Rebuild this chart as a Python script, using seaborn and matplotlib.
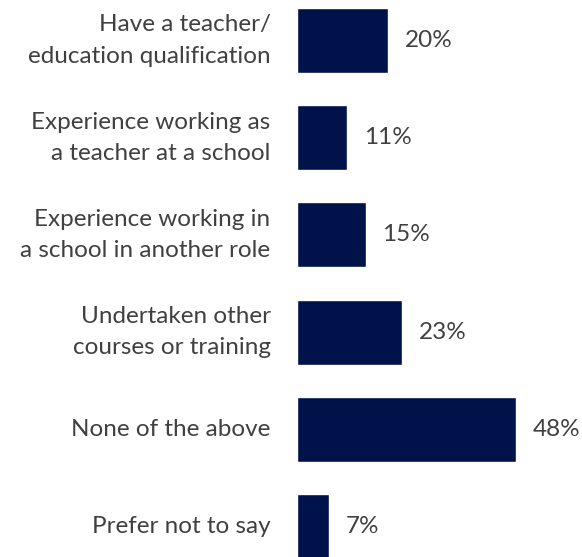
import matplotlib
matplotlib.use("Agg")
import matplotlib.pyplot as plt
import seaborn as sns
import pandas as pd

categories = [
    "Have a teacher/\neducation qualification",
    "Experience working as\na teacher at a school",
    "Experience working in\na school in another role",
    "Undertaken other\ncourses or training",
    "None of the above",
    "Prefer not to say",
]
values = [20, 11, 15, 23, 48, 7]
value_labels = ["20%", "11%", "15%", "23%", "48%", "7%"]

sns.set_style("white")
plt.rcParams["font.family"] = ["Lato", "DejaVu Sans"]

df = pd.DataFrame({"category": categories, "value": values})

fig = plt.figure(figsize=(5.82, 5.57), dpi=100)
ax = fig.add_axes([297 / 582, 0, 1 - 297 / 582, 1])

sns.barplot(data=df, x="value", y="category", orient="h", color="#00124A",
            saturation=1, width=0.67, ax=ax)

ax.set_xlim(0, 62.4)
ax.set_ylim(5.314, -0.417)
for spine in ax.spines.values():
    spine.set_visible(False)
ax.set_xlabel("")
ax.set_ylabel("")
ax.set_xticks([])
ax.set_yticks(range(len(categories)))
ax.set_yticklabels([])
ax.tick_params(axis="y", length=0)

text_color = "#404040"
fs = 17.5

# category names, right-aligned to the left of each bar
for i, name in enumerate(categories):
    ax.annotate(name, (0, i), xytext=(-19, 0), textcoords="offset points",
                ha="right", va="center", multialignment="right",
                linespacing=1.6, fontsize=fs, color=text_color,
                annotation_clip=False)

# value labels at the end of each bar
for i, (v, t) in enumerate(zip(values, value_labels)):
    ax.annotate(t, (v, i), xytext=(12, 0), textcoords="offset points",
                ha="left", va="center", fontsize=fs, color=text_color,
                annotation_clip=False)

fig.savefig("out.png", dpi=100)
